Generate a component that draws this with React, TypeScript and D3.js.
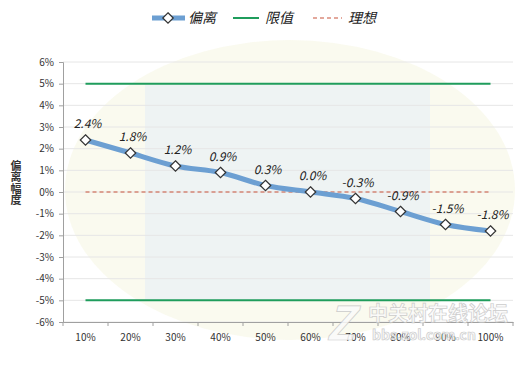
import React, {useEffect, useRef} from 'react';
import * as d3 from 'd3';

const categories = ['10%', '20%', '30%', '40%', '50%', '60%', '70%', '80%', '90%', '100%'];
const deviation = [2.4, 1.8, 1.2, 0.9, 0.3, 0.0, -0.3, -0.9, -1.5, -1.8];
const limitHigh = [5, 5, 5, 5, 5, 5, 5, 5, 5, 5];
const limitLow = [-5, -5, -5, -5, -5, -5, -5, -5, -5, -5];
const ideal = [0, 0, 0, 0, 0, 0, 0, 0, 0, 0];
const yTicks = [6, 5, 4, 3, 2, 1, 0, -1, -2, -3, -4, -5, -6];
const yTitle = '偏离幅度';

const W = 532, H = 365;
const FONT = '"Noto Sans CJK SC", "Noto Sans", sans-serif';

function App() {
  const ref = useRef<SVGSVGElement>(null);
  useEffect(() => {
    const svg = d3.select(ref.current);
    svg.selectAll('*').remove();
    const left = 63, right = 513, top = 62, bottom = 322;

    const x = d3.scaleBand().domain(categories).range([left, right]);
    const cx = (c: string) => (x(c) as number) + x.bandwidth() / 2;
    const y = d3.scaleLinear().domain([-6, 6]).range([bottom, top]);

    // faint watermark background
    const bg = svg.append('g');
    bg.append('ellipse').attr('cx', 290).attr('cy', 190).attr('rx', 225).attr('ry', 150)
      .attr('fill', '#f7f6e4').attr('opacity', 0.6);
    bg.append('rect').attr('x', 145).attr('y', 85).attr('width', 285).attr('height', 215)
      .attr('fill', '#e3edf5').attr('opacity', 0.55);

    // gridlines
    svg.append('g').selectAll('line').data(yTicks).join('line')
      .attr('x1', left).attr('x2', right)
      .attr('y1', d => y(d)).attr('y2', d => y(d))
      .attr('stroke', '#e6e6e6').attr('stroke-width', 1);

    // y axis
    const ya = svg.append('g').attr('transform', `translate(${left},0)`)
      .call(d3.axisLeft(y).tickValues(yTicks).tickSize(4).tickPadding(5).tickFormat(d => `${d}%`));
    ya.select('.domain').attr('stroke', '#a0a0a0');
    ya.selectAll('line').attr('stroke', '#a0a0a0');
    ya.selectAll('text').attr('font-family', FONT).attr('font-size', 10).attr('fill', '#333');

    // x axis
    const xa = svg.append('g').attr('transform', `translate(0,${bottom})`)
      .call(d3.axisBottom(x).tickSize(0).tickPadding(12));
    xa.select('.domain').attr('stroke', '#a0a0a0');
    xa.selectAll('text').attr('font-family', FONT).attr('font-size', 10).attr('fill', '#333');
    svg.append('g').selectAll('line').data(d3.range(categories.length + 1)).join('line')
      .attr('x1', i => left + i * x.step()).attr('x2', i => left + i * x.step())
      .attr('y1', bottom).attr('y2', bottom + 4).attr('stroke', '#a0a0a0');

    // y title, vertical
    svg.append('text').attr('x', 16).attr('y', 160)
      .style('writing-mode', 'vertical-rl')
      .attr('font-family', FONT).attr('font-size', 11).attr('letter-spacing', 0.5)
      .attr('font-weight', 'bold').attr('fill', '#333').text(yTitle);

    const flat = d3.line<number>().x((d, i) => cx(categories[i])).y(d => y(d));

    // limits
    [limitHigh, limitLow].forEach(s => {
      svg.append('path').attr('d', flat(s)).attr('fill', 'none')
        .attr('stroke', '#1f9d5c').attr('stroke-width', 2);
    });
    // ideal
    svg.append('path').attr('d', flat(ideal)).attr('fill', 'none')
      .attr('stroke', '#c8523a').attr('stroke-width', 1.2).attr('stroke-dasharray', '4,3');

    // deviation
    const smooth = d3.line<number>().x((d, i) => cx(categories[i])).y(d => y(d)).curve(d3.curveMonotoneX);
    svg.append('path').attr('d', smooth(deviation)).attr('fill', 'none')
      .attr('stroke', '#6c9fd2').attr('stroke-width', 5).attr('stroke-linejoin', 'round');
    const sym = d3.symbol().type(d3.symbolDiamond2).size(70);
    svg.append('g').selectAll('path').data(deviation).join('path')
      .attr('d', sym)
      .attr('transform', (d, i) => `translate(${cx(categories[i])},${y(d)})`)
      .attr('fill', '#fff').attr('stroke', '#333').attr('stroke-width', 1.2);
    svg.append('g').selectAll('text').data(deviation).join('text')
      .attr('x', (d, i) => cx(categories[i]) + 2)
      .attr('y', d => y(d) - 12)
      .attr('text-anchor', 'middle').attr('font-family', FONT).attr('font-size', 12)
      .attr('font-style', 'italic').attr('fill', '#222')
      .text(d => `${d.toFixed(1)}%`);

    // legend
    const lg = svg.append('g').attr('font-family', FONT).attr('font-size', 14).attr('font-style', 'italic');
    lg.append('line').attr('x1', 152).attr('x2', 185).attr('y1', 18).attr('y2', 18)
      .attr('stroke', '#6c9fd2').attr('stroke-width', 5);
    lg.append('path').attr('d', sym).attr('transform', 'translate(168,18)')
      .attr('fill', '#fff').attr('stroke', '#333').attr('stroke-width', 1.2);
    lg.append('text').attr('x', 188).attr('y', 23).attr('fill', '#222').text('偏离');
    lg.append('line').attr('x1', 233).attr('x2', 259).attr('y1', 18).attr('y2', 18)
      .attr('stroke', '#1f9d5c').attr('stroke-width', 2);
    lg.append('text').attr('x', 265).attr('y', 23).attr('fill', '#222').text('限值');
    lg.append('line').attr('x1', 313).attr('x2', 342).attr('y1', 18).attr('y2', 18)
      .attr('stroke', '#c8523a').attr('stroke-width', 1.2).attr('stroke-dasharray', '4,3');
    lg.append('text').attr('x', 348).attr('y', 23).attr('fill', '#222').text('理想');

    // site watermark
    const wm = svg.append('g').attr('font-family', FONT).attr('font-weight', 'bold')
      .attr('fill', '#fafafa').attr('stroke', '#c4c4c4').attr('stroke-width', 0.7).attr('opacity', 0.85);
    wm.append('text').attr('x', 326).attr('y', 340).attr('font-size', 46).attr('font-style', 'italic').text('Z');
    wm.append('text').attr('x', 368).attr('y', 321).attr('font-size', 20).text('中关村在线论坛');
    wm.append('text').attr('x', 372).attr('y', 340).attr('font-size', 14).text('bbs.zol.com.cn');
  }, []);
  return (
    <svg ref={ref} width={W} height={H} style={{display: 'block', position: 'absolute', left: 0, top: 0, background: '#fff'}} />
  );
}

export default App;
